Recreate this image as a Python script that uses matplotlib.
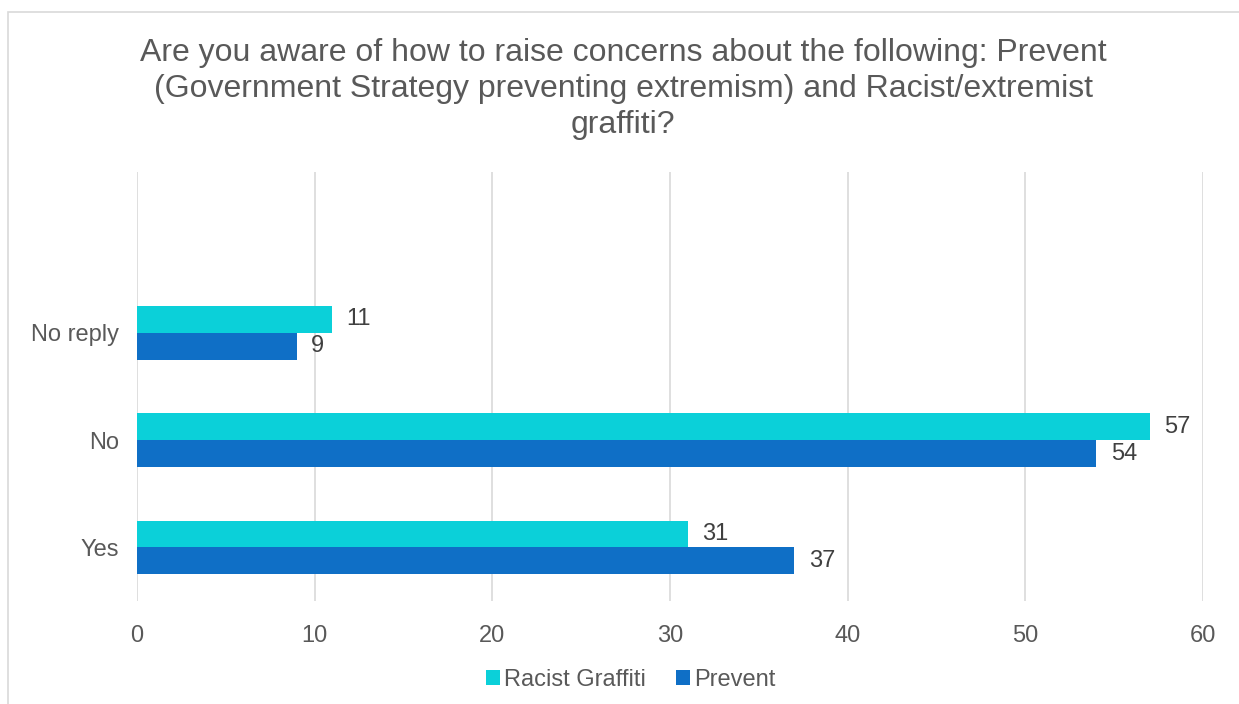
import numpy as np
import matplotlib.pyplot as plt
from matplotlib.patches import Rectangle

categories = ["Yes", "No", "No reply"]
racist_graffiti = [31, 57, 11]
prevent = [37, 54, 9]
ticks = [0, 10, 20, 30, 40, 50, 60]

c_racist = "#0BD0D9"
c_prevent = "#0F6FC6"
txt = "#595959"

plt.rcParams['font.family'] = ['Liberation Sans', 'DejaVu Sans']

fig = plt.figure(figsize=(12.39, 7.04), dpi=100)
ax = fig.add_axes([137/1239, 1-601/704, (1203-137)/1239, (601-172)/704])

# chart border
fig.patches.append(Rectangle((8/1239, -0.1), 1.2, 1.1 - 12/704, transform=fig.transFigure,
                             fill=False, edgecolor="#D9D9D9", linewidth=1.2))

y = np.arange(len(categories))
h = 0.25
b1 = ax.barh(y + h/2, racist_graffiti, height=h, color=c_racist, label="Racist Graffiti", zorder=3)
b2 = ax.barh(y - h/2, prevent, height=h, color=c_prevent, label="Prevent", zorder=3)

for bars, vals in ((b1, racist_graffiti), (b2, prevent)):
    for bar, v in zip(bars, vals):
        ax.text(v + 0.8, bar.get_y() + bar.get_height()/2, str(v), va="center", ha="left",
                fontsize=17, color="#404040")

ax.set_xlim(0, 60)
ax.set_ylim(-0.5, 3.5)
ax.set_xticks(ticks)
ax.set_yticks(y)
ax.set_yticklabels(categories)
ax.tick_params(axis="both", length=0, labelsize=17, labelcolor=txt)
ax.tick_params(axis="x", pad=17)
ax.tick_params(axis="y", pad=13)
ax.grid(axis="x", color="#D9D9D9", linewidth=1.2, zorder=0)
for s in ax.spines.values():
    s.set_visible(False)

fig.text(0.503, 1-89/704, "Are you aware of how to raise concerns about the following: Prevent\n"
         "(Government Strategy preventing extremism) and Racist/extremist\ngraffiti?",
         ha="center", va="center", fontsize=23, color=txt, linespacing=1.24)

fig.legend(handles=[b1, b2], loc="center", bbox_to_anchor=(0.509, 1-680/704), ncol=2, frameon=False,
           fontsize=17, labelcolor=txt, handlelength=0.6, handleheight=0.6, handletextpad=0.15,
           columnspacing=1.3)

fig.savefig("out.png", dpi=100, facecolor="white")
